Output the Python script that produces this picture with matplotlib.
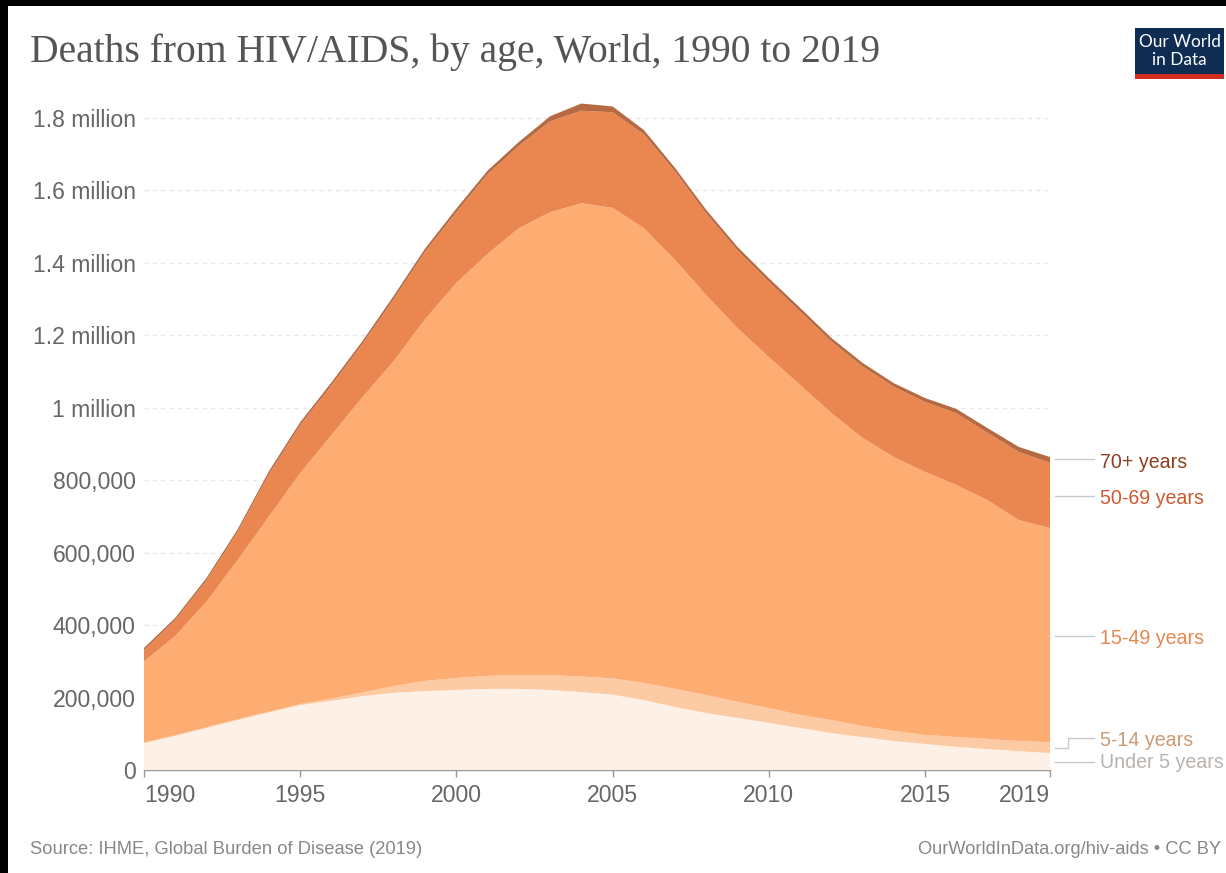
import matplotlib
matplotlib.use("Agg")
import matplotlib.pyplot as plt
from matplotlib.patches import Rectangle

W, H = 1226, 873

# Deaths per year, in thousands
years = list(range(1990, 2020))
under_5 = [74, 94, 116, 138, 159, 179, 191, 204, 213, 218, 221, 224, 224, 221, 215,
           208, 193, 174, 157, 144, 130, 116, 102, 91, 80, 72, 64, 58, 52, 47]
age_5_14 = [2, 2, 2, 2, 2, 3, 6, 10, 19, 28, 33, 36, 38, 41, 43,
            45, 47, 50, 50, 44, 41, 36, 36, 30, 28, 25, 27, 28, 28, 30]
age_15_49 = [224, 274, 347, 440, 539, 638, 728, 816, 898, 999, 1091, 1165, 1234, 1278, 1307,
             1299, 1256, 1184, 1104, 1032, 969, 911, 848, 796, 756, 726, 696, 659, 610, 591]
age_50_69 = [31, 44, 58, 78, 117, 132, 137, 147, 171, 186, 195, 220, 227, 251, 255,
             264, 259, 244, 225, 214, 208, 203, 197, 197, 194, 193, 198, 186, 188, 180]
age_70_plus = [6, 6, 7, 7, 8, 8, 8, 8, 9, 9, 10, 10, 11, 14, 20,
               16, 12, 10, 10, 10, 10, 10, 10, 10, 10, 11, 12, 13, 14, 16]

y_ticks = [0, 200, 400, 600, 800, 1000, 1200, 1400, 1600, 1800]
y_tick_labels = ["0", "200,000", "400,000", "600,000", "800,000", "1 million",
                 "1.2 million", "1.4 million", "1.6 million", "1.8 million"]
x_ticks = [1990, 1995, 2000, 2005, 2010, 2015, 2019]

series_colors = ["#fdf0e6", "#fdcba3", "#fdac72", "#ea8650", "#b56a42"]

# End-of-line labels: text, colour, label y, leader-line pixel path
end_labels = [
    ("70+ years", "#8a3f1f", 462, [(1055, 459), (1094, 459)]),
    ("50-69 years", "#cc5a2c", 498, [(1055, 496), (1094, 496)]),
    ("15-49 years", "#e4884e", 638, [(1055, 636), (1094, 636)]),
    ("5-14 years", "#c99a75", 740, [(1055, 748), (1068, 748), (1068, 738), (1094, 738)]),
    ("Under 5 years", "#b9b2ae", 763, [(1055, 762), (1094, 762)]),
]

plt.rcParams["font.family"] = ["Liberation Sans", "DejaVu Sans"]
fig = plt.figure(figsize=(W / 100, H / 100), dpi=100, facecolor="white")


def fx(px):
    return px / W


def fy(py):
    return 1 - py / H


# Plot area
left, right, top, bottom = 144, 1050, 95, 770
ax = fig.add_axes([fx(left), fy(bottom), fx(right - left), (bottom - top) / H])
ax.set_facecolor("none")
ax.stackplot(years, under_5, age_5_14, age_15_49, age_50_69, age_70_plus,
             colors=series_colors, linewidth=0, zorder=3)
ax.set_xlim(1990, 2019)
ax.set_ylim(0, (bottom - top) / 362.2 * 1000)

ax.set_yticks(y_ticks)
ax.set_yticklabels(y_tick_labels)
ax.set_xticks(x_ticks)
ax.set_xticklabels([str(v) for v in x_ticks])
ax.tick_params(axis="y", length=0, pad=6, labelsize=16.6, labelcolor="#666666")
ax.tick_params(axis="x", length=5, width=1, color="#999999", pad=5,
               labelsize=16.6, labelcolor="#666666")
x_labels = ax.get_xticklabels()
x_labels[0].set_ha("left")
x_labels[-1].set_ha("right")

ax.grid(axis="y", color="#e6e6e6", linewidth=1, linestyle=(0, (3, 3)), zorder=0)
ax.set_axisbelow(True)
for name in ("top", "left", "right"):
    ax.spines[name].set_visible(False)
ax.spines["bottom"].set_color("#999999")
ax.spines["bottom"].set_linewidth(1)

# Direct labels with leader lines to the right of the plot
for text, color, label_y, path in end_labels:
    fig.add_artist(plt.Line2D([fx(p[0]) for p in path], [fy(p[1]) for p in path],
                              color="#c3c9d0", linewidth=1))
    fig.text(fx(1100), fy(label_y), text, color=color, fontsize=14.1,
             va="center", ha="left")

# Title and footer
fig.text(fx(30), fy(52), "Deaths from HIV/AIDS, by age, World, 1990 to 2019",
         family="Liberation Serif", fontsize=28.5, color="#555555", va="center", ha="left")
fig.text(fx(30), fy(849), "Source: IHME, Global Burden of Disease (2019)",
         fontsize=13.2, color="#888888", va="center", ha="left")
fig.text(fx(1221), fy(849), "OurWorldInData.org/hiv-aids • CC BY",
         fontsize=13.15, color="#888888", va="center", ha="right")

# Logo block
fig.add_artist(Rectangle((fx(1135), fy(79)), fx(89), 51 / H, transform=fig.transFigure,
                         facecolor="#0f2d52", edgecolor="none"))
fig.add_artist(Rectangle((fx(1135), fy(79)), fx(89), 5 / H, transform=fig.transFigure,
                         facecolor="#d42b21", edgecolor="none"))
fig.text(fx(1179.5), fy(51), "Our World\nin Data", color="white", fontsize=12.4,
         ha="center", va="center", linespacing=1.1, family="Lato")

# Black frame along the left and top edges
fig.add_artist(Rectangle((0, 0), fx(8), 1, transform=fig.transFigure,
                         facecolor="black", edgecolor="none"))
fig.add_artist(Rectangle((0, fy(6)), 1, 6 / H, transform=fig.transFigure,
                         facecolor="black", edgecolor="none"))

fig.savefig("out.png", dpi=100, facecolor="white")
